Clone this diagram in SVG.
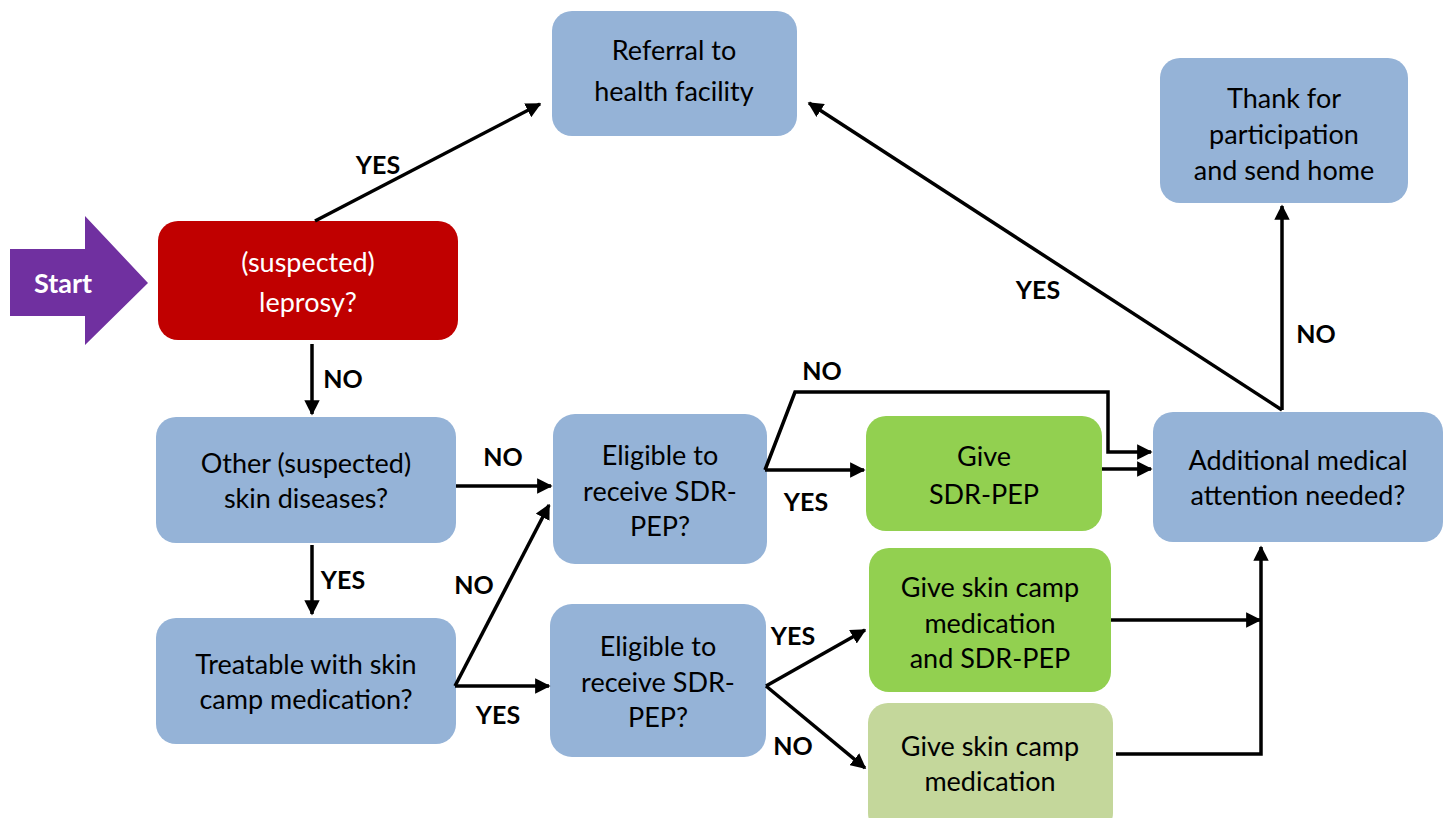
<svg xmlns="http://www.w3.org/2000/svg" width="1448" height="818" viewBox="0 0 1448 818">
<style>
.box{stroke:none}
.blue{fill:#95B3D7}
.t{font-family:Lato,"Liberation Sans",sans-serif;font-size:27px;fill:#000;text-anchor:middle;dominant-baseline:central}
.lbl{font-family:Lato,"Liberation Sans",sans-serif;font-size:25px;font-weight:bold;fill:#000;text-anchor:middle;dominant-baseline:central}
.c{fill:none;stroke:#000;stroke-width:3.5;stroke-linejoin:miter}
</style>
<defs>
<marker id="ah" viewBox="0 0 10 10" refX="9" refY="5" markerWidth="4.4" markerHeight="4.4" markerUnits="strokeWidth" orient="auto">
<path d="M0,0 L10,5 L0,10 z" fill="#000"/>
</marker>
</defs>
<rect width="1448" height="818" fill="#fff"/>

<g id="start">
<polygon points="10,249 85,249 85,216 148,283 85,345 85,316 10,316" fill="#7030A0"/>
<text class="lbl" x="63" y="282" style="fill:#fff;font-size:27px">Start</text>
</g>

<g id="referral">
<rect class="box blue" x="552" y="11" width="245" height="125" rx="20"/>
<text class="t" x="674" y="49">Referral to</text>
<text class="t" x="674" y="90">health facility</text>
</g>

<g id="thank">
<rect class="box blue" x="1160" y="58" width="248" height="145" rx="20"/>
<text class="t" x="1284" y="97">Thank for</text>
<text class="t" x="1284" y="133">participation</text>
<text class="t" x="1284" y="169">and send home</text>
</g>

<g id="leprosy">
<rect class="box" x="158" y="221" width="300" height="119" rx="20" fill="#C00000"/>
<text class="t" x="308" y="261" style="fill:#fff">(suspected)</text>
<text class="t" x="308" y="301" style="fill:#fff">leprosy?</text>
</g>

<g id="other">
<rect class="box blue" x="156" y="417" width="300" height="126" rx="20"/>
<text class="t" x="306" y="462">Other (suspected)</text>
<text class="t" x="306" y="497">skin diseases?</text>
</g>

<g id="treatable">
<rect class="box blue" x="156" y="618" width="300" height="126" rx="20"/>
<text class="t" x="306" y="663">Treatable with skin</text>
<text class="t" x="306" y="698">camp medication?</text>
</g>

<g id="eligible1">
<rect class="box blue" x="553" y="414" width="214" height="150" rx="22"/>
<text class="t" x="660" y="454">Eligible to</text>
<text class="t" x="660" y="490">receive SDR-</text>
<text class="t" x="660" y="525">PEP?</text>
</g>

<g id="eligible2">
<rect class="box blue" x="550" y="604" width="216" height="153" rx="22"/>
<text class="t" x="658" y="645">Eligible to</text>
<text class="t" x="658" y="681">receive SDR-</text>
<text class="t" x="658" y="716">PEP?</text>
</g>

<g id="givesdr">
<rect class="box" x="866" y="416" width="236" height="115" rx="20" fill="#92D050"/>
<text class="t" x="984" y="455">Give</text>
<text class="t" x="984" y="493">SDR-PEP</text>
</g>

<g id="additional">
<rect class="box blue" x="1153" y="412" width="290" height="130" rx="20"/>
<text class="t" x="1298" y="459">Additional medical</text>
<text class="t" x="1298" y="494">attention needed?</text>
</g>

<g id="skinsdr">
<rect class="box" x="869" y="548" width="242" height="144" rx="20" fill="#92D050"/>
<text class="t" x="990" y="586">Give skin camp</text>
<text class="t" x="990" y="622">medication</text>
<text class="t" x="990" y="657">and SDR-PEP</text>
</g>

<g id="skin">
<rect class="box" x="868" y="703" width="245" height="130" rx="20" fill="#C4D79B"/>
<text class="t" x="990" y="745">Give skin camp</text>
<text class="t" x="990" y="780">medication</text>
</g>

<g id="connectors">
<path class="c" d="M315,221 L540,104" marker-end="url(#ah)"/>
<path class="c" d="M312,344 L312,414" marker-end="url(#ah)"/>
<path class="c" d="M312,545 L312,614" marker-end="url(#ah)"/>
<path class="c" d="M456,486 L551,486" marker-end="url(#ah)"/>
<path class="c" d="M455,686 L549,505" marker-end="url(#ah)"/>
<path class="c" d="M455,686 L549,686" marker-end="url(#ah)"/>
<path class="c" d="M765,470 L864,470" marker-end="url(#ah)"/>
<path class="c" d="M765,470 L795,392 L1108,392 L1108,452 L1151,452" marker-end="url(#ah)"/>
<path class="c" d="M1102,469 L1151,469" marker-end="url(#ah)"/>
<path class="c" d="M1282,410 L1282,206" marker-end="url(#ah)"/>
<path class="c" d="M1282,410 L809,103" marker-end="url(#ah)"/>
<path class="c" d="M766,686 L865,630" marker-end="url(#ah)"/>
<path class="c" d="M766,686 L865,768" marker-end="url(#ah)"/>
<path class="c" d="M1111,620 L1260,620" marker-end="url(#ah)"/>
<path class="c" d="M1116,754 L1261,754 L1261,547" marker-end="url(#ah)"/>
<text class="lbl" x="378" y="164">YES</text>
<text class="lbl" x="343" y="378">NO</text>
<text class="lbl" x="343" y="579">YES</text>
<text class="lbl" x="503" y="456">NO</text>
<text class="lbl" x="474" y="584">NO</text>
<text class="lbl" x="498" y="714">YES</text>
<text class="lbl" x="822" y="370">NO</text>
<text class="lbl" x="806" y="501">YES</text>
<text class="lbl" x="1038" y="289">YES</text>
<text class="lbl" x="1316" y="333">NO</text>
<text class="lbl" x="793" y="635">YES</text>
<text class="lbl" x="793" y="745">NO</text>
</g>
</svg>
